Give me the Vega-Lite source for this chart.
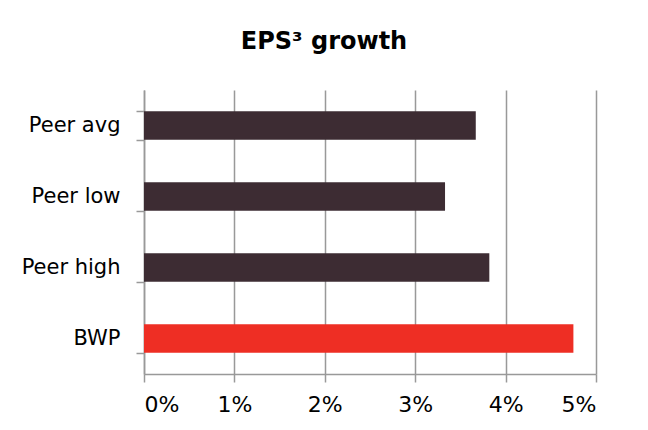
{
  "$schema": "https://vega.github.io/schema/vega-lite/v6.json",
  "autosize": {"type": "none"},
  "width": 452,
  "height": 284,
  "padding": {"left": 144, "top": 90, "right": 52, "bottom": 56},
  "background": "white",
  "config": {"view": {"stroke": null}},
  "title": {
    "text": "EPS³ growth",
    "font": "DejaVu Sans",
    "fontSize": 24,
    "fontWeight": "bold",
    "color": "#000000",
    "anchor": "middle",
    "frame": "group",
    "dx": -46,
    "baseline": "alphabetic",
    "offset": 6
  },
  "data": {
    "values": [
      {"label": "Peer avg", "value": 0.0367, "kind": "peer"},
      {"label": "Peer low", "value": 0.0333, "kind": "peer"},
      {"label": "Peer high", "value": 0.0382, "kind": "peer"},
      {"label": "BWP", "value": 0.0475, "kind": "company"}
    ]
  },
  "mark": {"type": "bar"},
  "encoding": {
    "y": {
      "field": "label",
      "type": "nominal",
      "sort": null,
      "scale": {"paddingInner": 0.6, "paddingOuter": 0.3},
      "axis": {
        "title": null,
        "tickBand": "extent",
        "tickSize": 8,
        "tickColor": "#999999",
        "tickWidth": 1.5,
        "domainColor": "#999999",
        "domainWidth": 1.5,
        "labelFont": "DejaVu Sans",
        "labelFontSize": 21,
        "labelColor": "#000000",
        "labelPadding": 16,
        "grid": false
      }
    },
    "x": {
      "field": "value",
      "type": "quantitative",
      "scale": {"domain": [0, 0.05], "nice": false},
      "axis": {
        "title": null,
        "values": [0, 0.01, 0.02, 0.03, 0.04, 0.05],
        "format": ".0%",
        "grid": true,
        "gridColor": "#999999",
        "gridWidth": 1.5,
        "tickSize": 8,
        "tickColor": "#999999",
        "tickWidth": 1.5,
        "domainColor": "#999999",
        "domainWidth": 1.5,
        "labelFont": "DejaVu Sans",
        "labelFontSize": 22,
        "labelColor": "#000000",
        "labelPadding": 12
      }
    },
    "color": {
      "field": "kind",
      "type": "nominal",
      "scale": {"domain": ["peer", "company"], "range": ["#3d2c33", "#ee2e24"]},
      "legend": null
    }
  }
}
